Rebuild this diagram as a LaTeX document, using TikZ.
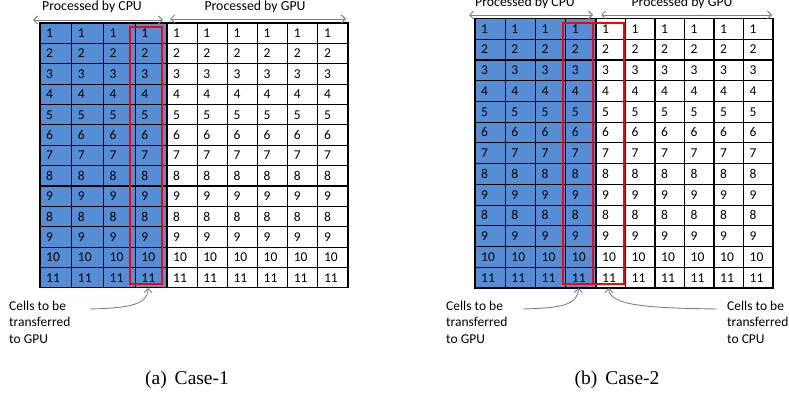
\documentclass[tikz,border=0pt]{standalone}
\usepackage{fontspec}
\setmainfont{Carlito}
\newfontfamily\capfont{Liberation Serif}
\usetikzlibrary{arrows.meta}
\definecolor{cellblue}{HTML}{558ED5}
\definecolor{arrgray}{HTML}{808080}
\tikzset{
  cellbox/.style={draw=black, line width=1.1pt, inner sep=0pt, outer sep=0pt},
  celltxt/.style={inner sep=0pt, font=\fontsize{13.5}{15}\selectfont},
  toparrow/.style={draw=arrgray, line width=0.9pt, {Straight Barb[length=4pt,width=8pt]}-{Straight Barb[length=4pt,width=8pt]}},
  toptxt/.style={inner sep=0pt, font=\fontsize{13.8}{16}\selectfont},
  lbl/.style={inner sep=0pt, align=left, font=\fontsize{13.5}{16.7}\selectfont},
  curv/.style={draw=arrgray, line width=0.9pt, -{Straight Barb[length=4pt,width=8pt]}},
  redbox/.style={draw=red, line width=2pt},
  capt/.style={inner sep=0pt, font=\capfont\fontsize{19.5}{22}\selectfont}
}
\newcommand\mygrid[6]{%
  \foreach \v [count=\r] in {1,2,3,4,5,6,7,8,9,8,9,10,11} {
    \foreach \c in {1,...,10} {
      \ifnum\c<5
        \pgfmathsetmacro\cx{#2+(\c-0.5)*#4}\pgfmathsetmacro\cw{#4}\def\fc{cellblue}
      \else
        \pgfmathsetmacro\cx{#2+4*#4+(\c-4.5)*#5}\pgfmathsetmacro\cw{#5}\def\fc{white}
      \fi
      \pgfmathsetmacro\cy{#3+(\r-0.5)*#6}
      \pgfmathsetmacro\lx{\cx-\cw/2+6}
      \pgfmathsetmacro\by{\cy+4.4}
      \node[cellbox, fill=\fc, minimum width=\cw pt, minimum height=#6 pt] (#1-\r-\c) at (\cx,\cy) {};
      \node[celltxt, anchor=base west] (#1t-\r-\c) at (\lx,\by) {\v};
    }
  }
}
\begin{document}
\begin{tikzpicture}[x=1pt,y=-1pt]
\useasboundingbox (0,0) rectangle (789,396);
% grids
\mygrid{a}{40}{23}{31.75}{30.17}{20.38}
\mygrid{b}{475}{18.5}{30.25}{29.5}{20.73}
% red boxes
\draw[redbox] (130,27) rectangle (162,284);
\draw[redbox] (563,23) rectangle (593,284);
\draw[redbox] (593,23) rectangle (624,284);
% top arrows
\coordinate (acl) at (33,20); \coordinate (acr) at (163,20);
\coordinate (agl) at (170,19); \coordinate (agr) at (346,19);
\coordinate (bcl) at (469,15); \coordinate (bcr) at (593,15);
\coordinate (bgl) at (601,15); \coordinate (bgr) at (772,15);
\draw[toparrow] (acl) -- (acr);
\draw[toparrow] (agl) -- (agr);
\draw[toparrow] (bcl) -- (bcr);
\draw[toparrow] (bgl) -- (bgr);
\node[toptxt, anchor=base] (acpu) at (92,10.7) {Processed by CPU};
\node[toptxt, anchor=base] (agpu) at (255,10.7) {Processed by GPU};
\node[toptxt, anchor=base] (bcpu) at (525,6.5) {Processed by CPU};
\node[toptxt, anchor=base] (bgpu) at (682,6.5) {Processed by GPU};
% labels (base = last line)
\node[lbl, anchor=base west] (albl) at (9,343.4) {Cells to be\\transferred\\to GPU};
\node[lbl, anchor=base west] (blbl) at (446,343.4) {Cells to be\\transferred\\to GPU};
\node[lbl, anchor=base west] (clbl) at (727,343.4) {Cells to be\\transferred\\to CPU};
\coordinate (as) at (90,309);
\coordinate (bs) at (523,309);
\coordinate (cs) at (717,309);
\draw[curv] (as) .. controls (128,308) and (148,305) .. ([xshift=-3pt]a-13-4.south);
\draw[curv] (bs) .. controls (561,308) and (578,305) .. ([xshift=-2.5pt]b-13-4.south);
\draw[curv] (cs) .. controls (650,308) and (609,306) .. ([xshift=-2pt]b-13-5.south);
% captions
\node[capt] (capa) at (187,380) {(a)\hspace{8pt}Case-1};
\node[capt] (capb) at (617,380) {(b)\hspace{8pt}Case-2};
\end{tikzpicture}
\end{document}
